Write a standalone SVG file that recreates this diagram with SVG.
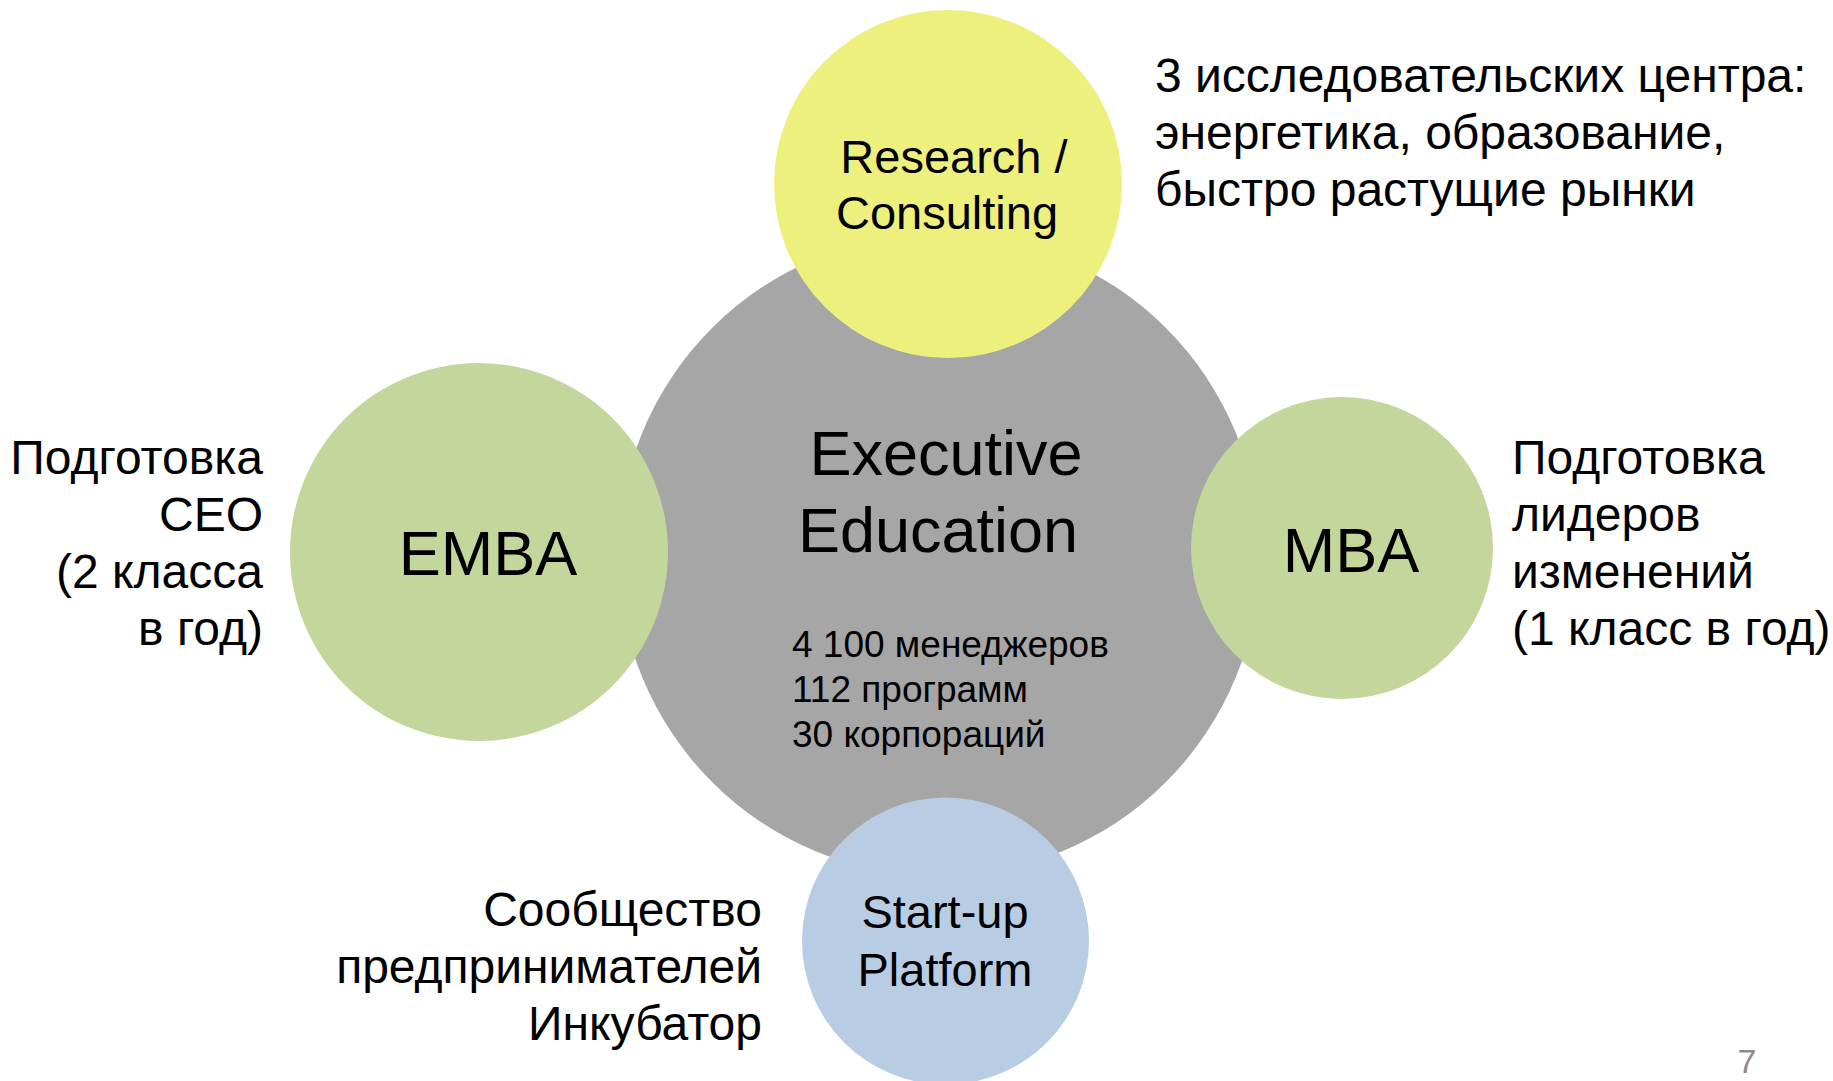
<svg xmlns="http://www.w3.org/2000/svg" width="1833" height="1081" viewBox="0 0 1833 1081">
<style>
text{font-family:"Liberation Sans",Arial,sans-serif;fill:#000}
.c{text-anchor:middle}
.r{text-anchor:end}
.big{font-size:63px}
.mid{font-size:47px}
.lab{font-size:48px}
.small{font-size:37px}
</style>
<rect width="1833" height="1081" fill="#fff"/>
<g id="connectors"/>
<g id="executive-education">
<circle cx="939" cy="555" r="321" fill="#A6A6A6"/>
<text class="big c" x="946" y="475">Executive</text>
<text class="big c" x="938" y="552">Education</text>
<text class="small" x="792" y="657">4 100 менеджеров</text>
<text class="small" x="792" y="702">112 программ</text>
<text class="small" x="792" y="747">30 корпораций</text>
</g>
<g id="research">
<circle cx="948" cy="184" r="174" fill="#EEF07D"/>
<text class="mid c" x="954" y="173">Research /</text>
<text class="mid c" x="947" y="229">Consulting</text>
</g>
<g id="emba">
<circle cx="479" cy="552" r="189" fill="#C3D69B"/>
<text class="big c" x="488" y="575">EMBA</text>
</g>
<g id="mba">
<circle cx="1342" cy="548" r="151" fill="#C3D69B"/>
<text class="big c" x="1351" y="572">MBA</text>
</g>
<g id="startup">
<circle cx="945.5" cy="941" r="143.5" fill="#B8CCE4"/>
<text class="mid c" x="945" y="928">Start-up</text>
<text class="mid c" x="945" y="986">Platform</text>
</g>
<g id="label-research">
<text class="lab" x="1155" y="92">3 исследовательских центра:</text>
<text class="lab" x="1155" y="149">энергетика, образование,</text>
<text class="lab" x="1155" y="206">быстро растущие рынки</text>
</g>
<g id="label-emba">
<text class="lab r" x="263" y="474">Подготовка</text>
<text class="lab r" x="263" y="531">CEO</text>
<text class="lab r" x="263" y="588">(2 класса</text>
<text class="lab r" x="263" y="645">в год)</text>
</g>
<g id="label-mba">
<text class="lab" x="1512" y="474">Подготовка</text>
<text class="lab" x="1512" y="531">лидеров</text>
<text class="lab" x="1512" y="588">изменений</text>
<text class="lab" x="1512" y="645">(1 класс в год)</text>
</g>
<g id="label-startup">
<text class="lab r" x="762" y="926">Сообщество</text>
<text class="lab r" x="762" y="983">предпринимателей</text>
<text class="lab r" x="762" y="1040">Инкубатор</text>
</g>
<text x="1747" y="1073" font-size="34" text-anchor="middle" style="fill:#8C8C8C">7</text>
</svg>
